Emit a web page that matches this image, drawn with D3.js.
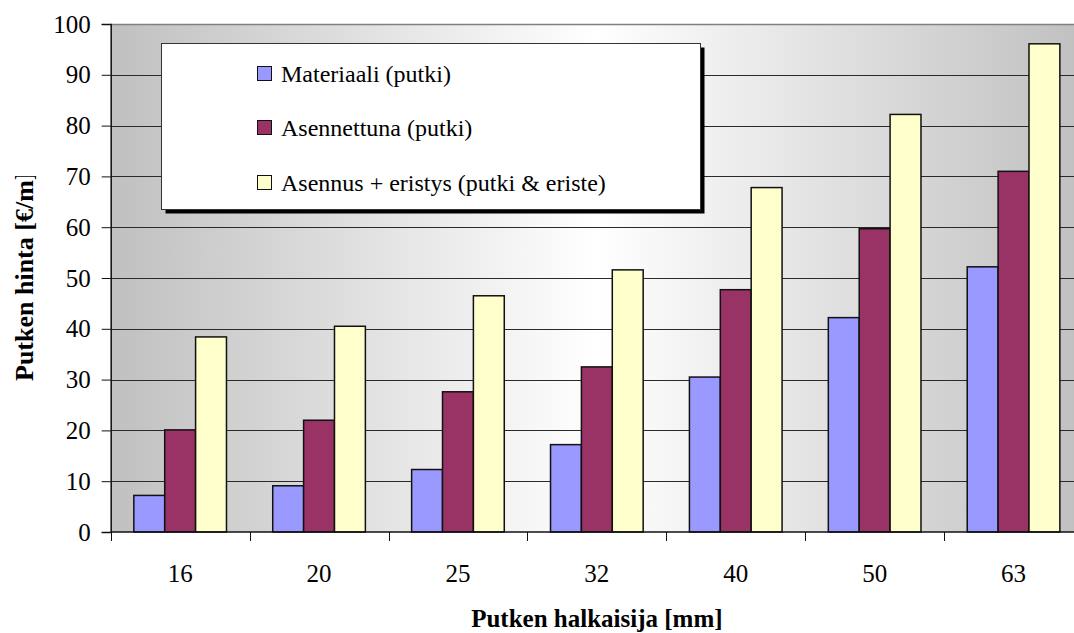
<!DOCTYPE html>
<html>
<head>
<meta charset="utf-8">
<script src="https://cdn.jsdelivr.net/npm/d3@7"></script>
<style>
  html, body { margin: 0; padding: 0; background: #fff; }
  svg { display: block; }
  svg text { font-family: "Liberation Serif", "Times New Roman", serif; fill: #000; }
</style>
</head>
<body>
<svg id="chart" width="1074" height="633"></svg>
<script>
// Pipe diameters (mm)
const categories = ["16", "20", "25", "32", "40", "50", "63"];
// Series names
const seriesNames = ["Materiaali (putki)", "Asennettuna (putki)", "Asennus + eristys (putki & eriste)"];
// Price per metre for each series
const materiaali = [7.2, 9.1, 12.3, 17.2, 30.5, 42.2, 52.2];
const asennettuna = [20.1, 22.0, 27.6, 32.5, 47.7, 59.7, 71.0];
const eristys = [38.4, 40.5, 46.5, 51.6, 67.8, 82.2, 96.1];
const yTicks = [0, 10, 20, 30, 40, 50, 60, 70, 80, 90, 100];
const colors = ["#9999FF", "#993366", "#FFFFCC"];

(function () {
const seriesValues = [materiaali, asennettuna, eristys];
const rows = categories.map((c, i) => ({
  cat: c,
  vals: seriesNames.map((s, j) => ({ series: s, value: seriesValues[j][i], color: colors[j] }))
}));

const FONT = "Liberation Serif, Times New Roman, serif";
const svg = d3.select("#chart");
const pLeft = 110.7, pRight = 1083, pTop = 24, pBottom = 532;

const x0 = d3.scaleBand().domain(categories).range([pLeft, pRight]).paddingInner(0).paddingOuter(0);
const bw = x0.bandwidth();
const gap = bw * 0.333;
const x1 = d3.scaleBand().domain(seriesNames).range([gap / 2, bw - gap / 2]);
const y = d3.scaleLinear().domain([0, 100]).range([pBottom, pTop]);

// Plot background: grey at the edges, white towards the middle
const defs = svg.append("defs");
const grad = defs.append("linearGradient").attr("id", "bg").attr("x1", "0%").attr("x2", "100%").attr("y1", "0%").attr("y2", "0%");
grad.append("stop").attr("offset", "0%").attr("stop-color", "#c0c0c0");
grad.append("stop").attr("offset", "50%").attr("stop-color", "#ffffff");
grad.append("stop").attr("offset", "100%").attr("stop-color", "#c0c0c0");

svg.append("rect")
  .attr("x", pLeft).attr("y", pTop)
  .attr("width", pRight - pLeft).attr("height", pBottom - pTop)
  .attr("fill", "url(#bg)");

// Horizontal gridlines
svg.append("g")
  .selectAll("line")
  .data(yTicks.filter(t => t > 0 && t < 100))
  .join("line")
  .attr("x1", pLeft).attr("x2", pRight)
  .attr("y1", d => Math.round(y(d)) + 0.5).attr("y2", d => Math.round(y(d)) + 0.5)
  .attr("stroke", "#2a2a2a").attr("stroke-width", 1);

// Top border of the plot
svg.append("line")
  .attr("x1", pLeft).attr("x2", pRight)
  .attr("y1", Math.round(y(100)) + 0.5).attr("y2", Math.round(y(100)) + 0.5)
  .attr("stroke", "#808080").attr("stroke-width", 1.5);

// Bars
svg.append("g")
  .selectAll("g")
  .data(rows)
  .join("g")
  .attr("transform", d => `translate(${x0(d.cat)},0)`)
  .selectAll("rect")
  .data(d => d.vals)
  .join("rect")
  .attr("x", d => x1(d.series))
  .attr("width", x1.bandwidth())
  .attr("y", d => y(d.value))
  .attr("height", d => y(0) - y(d.value))
  .attr("fill", d => d.color)
  .attr("stroke", "#111")
  .attr("stroke-width", 1.5);

// Y axis
const yAxis = d3.axisLeft(y).tickValues(yTicks).tickSize(9).tickPadding(11).tickFormat(d3.format("d"));
const gy = svg.append("g").attr("transform", `translate(${pLeft},0)`).call(yAxis)
  .attr("font-family", FONT).attr("font-size", 25);
gy.select(".domain").attr("stroke", "#111").attr("stroke-width", 1.5);
gy.selectAll(".tick line").attr("stroke", "#111");
gy.selectAll(".tick text").attr("fill", "#000");

// X axis: ticks at category boundaries, labels at centres
const gx = svg.append("g").attr("transform", `translate(0,${pBottom})`);
gx.append("line").attr("x1", pLeft).attr("x2", pRight).attr("y1", 0).attr("y2", 0)
  .attr("stroke", "#111").attr("stroke-width", 1.5);
gx.selectAll(".sep")
  .data(categories.concat([null]))
  .join("line")
  .attr("class", "sep")
  .attr("x1", (d, i) => Math.round(pLeft + i * bw) + 0.5)
  .attr("x2", (d, i) => Math.round(pLeft + i * bw) + 0.5)
  .attr("y1", 0).attr("y2", 9)
  .attr("stroke", "#111");
gx.selectAll(".lbl")
  .data(categories)
  .join("text")
  .attr("class", "lbl")
  .attr("x", d => x0(d) + bw / 2)
  .attr("y", 50)
  .attr("text-anchor", "middle")
  .attr("font-family", FONT)
  .attr("font-size", 25)
  .text(d => d);

// Axis titles
svg.append("text")
  .attr("x", (pLeft + pRight) / 2).attr("y", 627)
  .attr("text-anchor", "middle")
  .attr("font-family", FONT)
  .attr("font-size", 25).attr("font-weight", "bold")
  .text("Putken halkaisija [mm]");

defs.append("clipPath").attr("id", "ytclip")
  .append("rect").attr("x", 0).attr("y", 176).attr("width", 60).attr("height", 300);
svg.append("g").attr("clip-path", "url(#ytclip)")
  .append("text")
  .attr("transform", "translate(33,381) rotate(-90)")
  .attr("text-anchor", "start")
  .attr("font-family", FONT)
  .attr("font-size", 26).attr("font-weight", "bold")
  .text("Putken hinta [€/m]");

// Legend with drop shadow
const lg = svg.append("g");
const lx = 161.5, ly = 43.5, lw = 539, lh = 166;
lg.append("rect").attr("x", lx + 4).attr("y", ly + 4).attr("width", lw).attr("height", lh).attr("fill", "#000");
lg.append("rect").attr("x", lx).attr("y", ly).attr("width", lw).attr("height", lh)
  .attr("fill", "#fff").attr("stroke", "#333").attr("stroke-width", 1);
const rowsY = [73, 127, 182];
const items = lg.selectAll(".item")
  .data(seriesNames)
  .join("g")
  .attr("class", "item")
  .attr("transform", (d, i) => `translate(257,${rowsY[i]})`);
items.append("rect").attr("x", 0.5).attr("y", -6.5).attr("width", 14).attr("height", 14)
  .attr("fill", (d, i) => colors[i]).attr("stroke", "#111").attr("stroke-width", 1);
items.append("text").attr("x", 24).attr("y", 8.5)
  .attr("font-family", FONT)
  .attr("font-size", 24)
  .text(d => d);
})();
</script>
</body>
</html>
